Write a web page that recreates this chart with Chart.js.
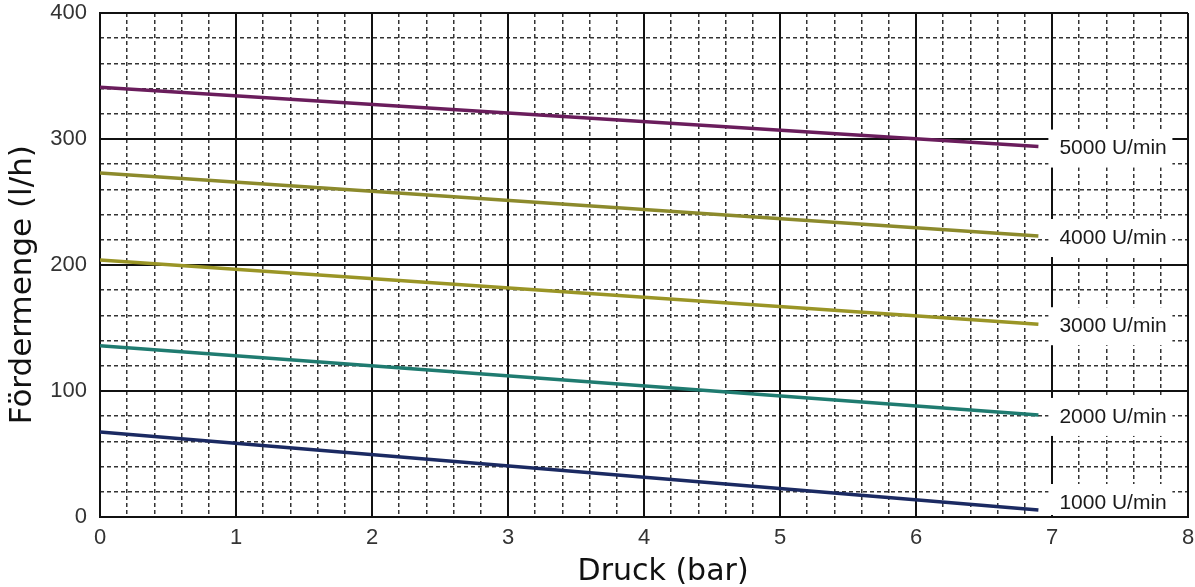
<!DOCTYPE html>
<html lang="de">
<head>
  <meta charset="UTF-8">
  <title>Fördermenge vs Druck</title>
  <style>
    html, body {
      margin: 0;
      padding: 0;
      background: #fff;
    }
    #wrap {
      width: 1195px;
      height: 587px;
    }
  </style>
  <script src="https://cdn.jsdelivr.net/npm/chart.js"></script>
</head>
<body>
  <div id="wrap"><canvas id="pumpChart"></canvas></div>

  <script>
    // Values
    const seriesNames = ['5000 U/min', '4000 U/min', '3000 U/min', '2000 U/min', '1000 U/min'];
    const pressure = [0, 6.9];             // bar, start and end of each curve
    const flow5000 = [341, 294];           // l/h
    const flow4000 = [273, 223];
    const flow3000 = [204, 153];
    const flow2000 = [136, 81];
    const flow1000 = [67.5, 5.5];
    const lineColors = ['#6a1d5c', '#8c8a2c', '#9a9526', '#1f7b70', '#1b2a62'];

    const allFlows = [flow5000, flow4000, flow3000, flow2000, flow1000];

    const datasets = allFlows.map((vals, i) => ({
      label: seriesNames[i],
      data: vals.map((v, j) => ({ x: pressure[j], y: v })),
      borderColor: lineColors[i],
      borderWidth: 3.5,
      pointRadius: 0,
      fill: false,
      tension: 0
    }));

    // Writes the rpm label with a white box at the end of every curve
    const endLabels = {
      id: 'endLabels',
      afterDatasetsDraw(chart) {
        const ctx = chart.ctx;
        const area = chart.chartArea;
        ctx.save();
        chart.data.datasets.forEach((ds, i) => {
          const meta = chart.getDatasetMeta(i);
          const last = meta.data[meta.data.length - 1];
          const ty = Math.min(last.y + 2, area.bottom - 14);
          const bx = last.x + 10;
          const top = ty - 19;
          const bottom = Math.min(ty + 19, area.bottom - 2);
          ctx.fillStyle = '#fff';
          ctx.fillRect(bx, top, 124, bottom - top);
          ctx.fillStyle = '#1a1a1a';
          ctx.font = '21px "Liberation Sans", Arial, sans-serif';
          ctx.textAlign = 'left';
          ctx.textBaseline = 'middle';
          ctx.fillText(ds.label, last.x + 21, ty);
        });
        ctx.restore();
      }
    };

    // keep the plot frame where the reference has it
    const noEdgePadding = (s) => {
      s.paddingTop = 0;
      s.paddingBottom = 0;
      s.paddingLeft = 0;
      s.paddingRight = 0;
    };

    const pad = '\u00a0\u00a0\u00a0\u00a0';

    new Chart(document.getElementById('pumpChart'), {
      type: 'line',
      data: { datasets },
      plugins: [endLabels],
      options: {
        responsive: true,
        maintainAspectRatio: false,
        animation: false,
        layout: { padding: { top: 13, right: 7, left: 0, bottom: 0 } },
        plugins: {
          legend: { display: false },
          tooltip: { enabled: false }
        },
        scales: {
          // dashed sub-grid
          xMinor: {
            type: 'linear',
            position: 'bottom',
            min: 0,
            max: 8,
            z: -1,
            ticks: { display: false, stepSize: 0.2, autoSkip: false },
            grid: { color: '#333', lineWidth: 1.5, drawTicks: false },
            border: { display: false, dash: [4, 3] },
            afterFit(s) { s.height = 0; noEdgePadding(s); }
          },
          yMinor: {
            type: 'linear',
            position: 'left',
            min: 0,
            max: 400,
            z: -1,
            ticks: { display: false, stepSize: 20, autoSkip: false },
            grid: { color: '#333', lineWidth: 1.5, drawTicks: false },
            border: { display: false, dash: [4, 3] },
            afterFit(s) { s.width = 0; noEdgePadding(s); }
          },
          x: {
            type: 'linear',
            position: 'bottom',
            min: 0,
            max: 8,
            ticks: {
              stepSize: 1,
              color: '#333',
              padding: 8,
              maxRotation: 0,
              font: { family: '"Liberation Sans", Arial, sans-serif', size: 22 }
            },
            grid: { color: '#111', lineWidth: 2, drawTicks: false },
            border: { color: '#111', width: 2 },
            title: {
              display: true,
              text: pad + 'Druck (bar)',
              color: '#111',
              padding: { top: 0, bottom: 0 },
              font: { family: '"DejaVu Sans", Verdana, sans-serif', size: 30, lineHeight: 1 }
            },
            afterFit(s) { s.height = 70; noEdgePadding(s); }
          },
          y: {
            type: 'linear',
            position: 'left',
            min: 0,
            max: 400,
            ticks: {
              stepSize: 100,
              color: '#333',
              padding: 13,
              font: { family: '"Liberation Sans", Arial, sans-serif', size: 22 }
            },
            grid: { color: '#111', lineWidth: 2, drawTicks: false },
            border: { color: '#111', width: 2 },
            title: {
              display: true,
              text: 'Fördermenge (l/h)' + pad,
              color: '#111',
              padding: { top: 4, bottom: 0 },
              font: { family: '"DejaVu Sans", Verdana, sans-serif', size: 31 }
            },
            afterFit(s) { s.width = 100; noEdgePadding(s); }
          }
        }
      }
    });
  </script>
</body>
</html>
